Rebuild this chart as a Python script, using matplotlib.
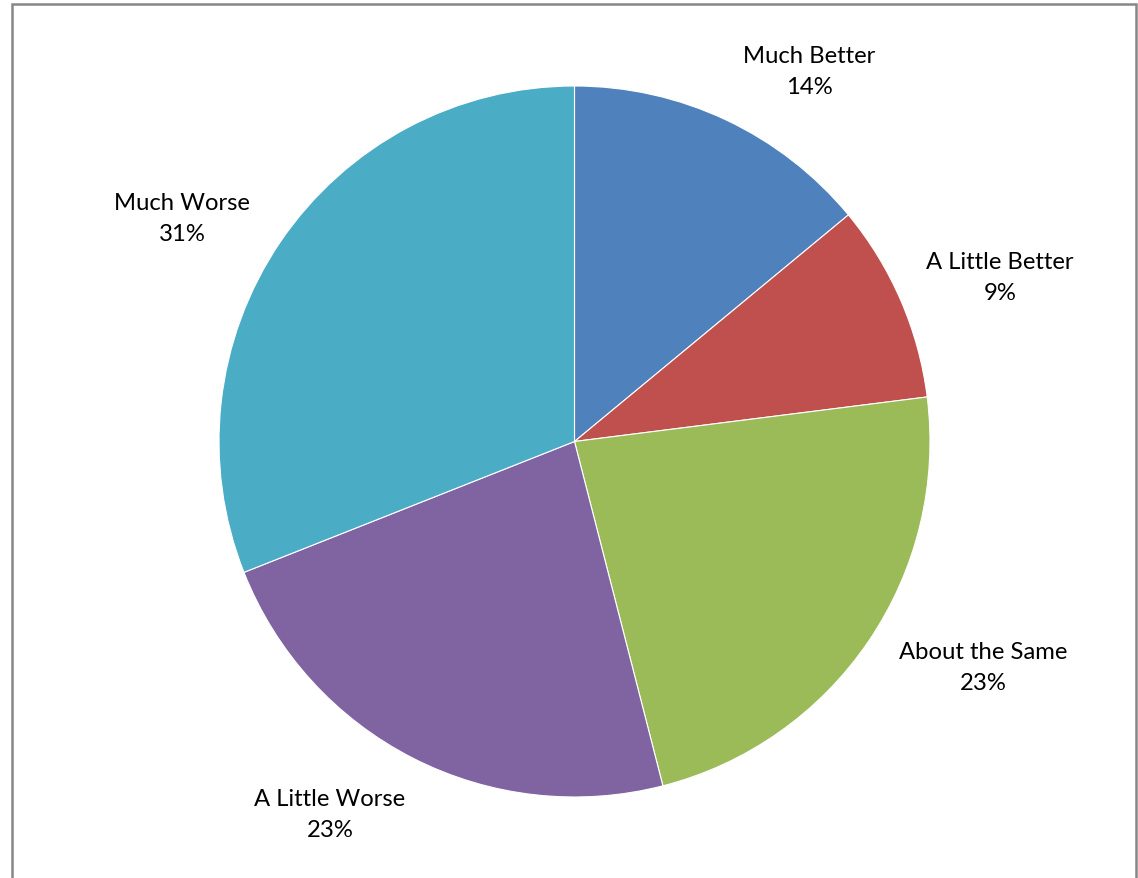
import matplotlib
matplotlib.use("Agg")
import matplotlib.pyplot as plt
from matplotlib.patches import Rectangle

categories = ["Much Better", "A Little Better", "About the Same", "A Little Worse", "Much Worse"]
shares = [14, 9, 23, 23, 31]
colors = ["#4F81BD", "#C0504D", "#9BBB59", "#8064A2", "#4BACC6"]

W, H = 1138, 879
fig = plt.figure(figsize=(W / 100, H / 100), dpi=100)
ax = fig.add_axes([0, 0, 1, 1])

cx, cy, r = 574.5, H - 442.5, 355.5
ax.pie(shares, colors=colors, startangle=90, counterclock=False,
       center=(cx, cy), radius=r,
       wedgeprops=dict(edgecolor="white", linewidth=0.8))
ax.set_xlim(0, W)
ax.set_ylim(0, H)
ax.set_aspect("equal")
ax.axis("off")

# label anchor points (pixel coordinates, top-left origin)
label_pos = [(809, 72), (1000, 278), (983, 668), (330, 815), (182, 219)]
for name, val, (px, py) in zip(categories, shares, label_pos):
    ax.text(px, H - py, f"{name}\n{val}%", ha="center", va="center",
            fontsize=17.2, family="Lato", color="#000000", linespacing=1.55)

# chart area frame
fig.patches.append(Rectangle((11.5 / W, -0.05), (1136 - 11.5) / W, 1.05 - 4.5 / H,
                             transform=fig.transFigure, fill=False,
                             edgecolor="#878787", linewidth=1.8))

fig.savefig("out.png", dpi=100)
